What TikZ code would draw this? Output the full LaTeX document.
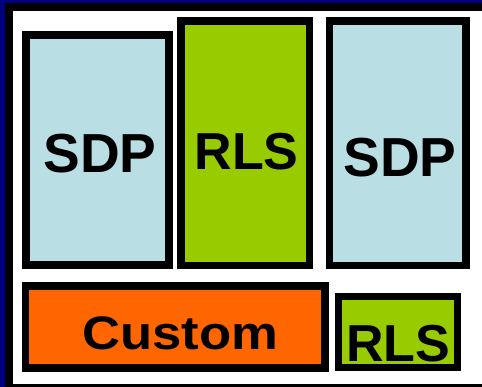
\documentclass[tikz,border=0pt]{standalone}
\usepackage{fontspec}
\setmainfont{Liberation Sans}
\definecolor{navyedge}{HTML}{000080}
\definecolor{paleblue}{HTML}{B9DFE4}
\definecolor{limegreen}{HTML}{99CC00}
\definecolor{brightorange}{HTML}{FF6600}
\tikzset{
  blockbox/.style={draw=black, line width=7.5pt, rectangle, inner sep=0pt, outer sep=0pt},
  blocklabel/.style={anchor=base, inner sep=0pt, font=\bfseries},
}
\begin{document}
\begin{tikzpicture}[x=1pt, y=-1pt]
  \useasboundingbox (0,0) rectangle (482,387);
  % frame: navy edge, black rim, white panel
  \fill[navyedge] (0,0) rectangle (482,387);
  \fill[black] (5,3) rectangle (482,387);
  \fill[white] (13,11) rectangle (482,384);

  % upper row
  \node[blockbox, fill=paleblue, minimum width=143pt, minimum height=230pt] (sdpa) at (97.5,150) {};
  \node[blockbox, fill=limegreen, minimum width=128.5pt, minimum height=244.5pt] (rlsa) at (245.25,143.25) {};
  \node[blockbox, fill=paleblue, minimum width=136.5pt, minimum height=244.5pt] (sdpb) at (397.75,143.25) {};

  % lower row
  \node[blockbox, fill=brightorange, minimum width=299.5pt, minimum height=82pt] (cust) at (175.25,327) {};
  \node[blockbox, fill=limegreen, minimum width=119pt, minimum height=71pt] (rlsb) at (398,332) {};

  % labels
  \node[blocklabel, font=\fontsize{55}{60}\selectfont\bfseries] (tsdpa) at (100,173) {SDP};
  \node[blocklabel, font=\fontsize{52}{56}\selectfont\bfseries] (trlsa) at (246.5,170) {RLS};
  \node[blocklabel, font=\fontsize{55}{60}\selectfont\bfseries] (tsdpb) at (400,177) {SDP};
  \node[blocklabel, font=\fontsize{47}{50}\selectfont\bfseries] (tcust) at (180,349) {\scalebox{1.12}[1]{Custom}};
  \node[blocklabel, font=\fontsize{52}{56}\selectfont\bfseries] (trlsb) at (398,362) {RLS};
\end{tikzpicture}
\end{document}
